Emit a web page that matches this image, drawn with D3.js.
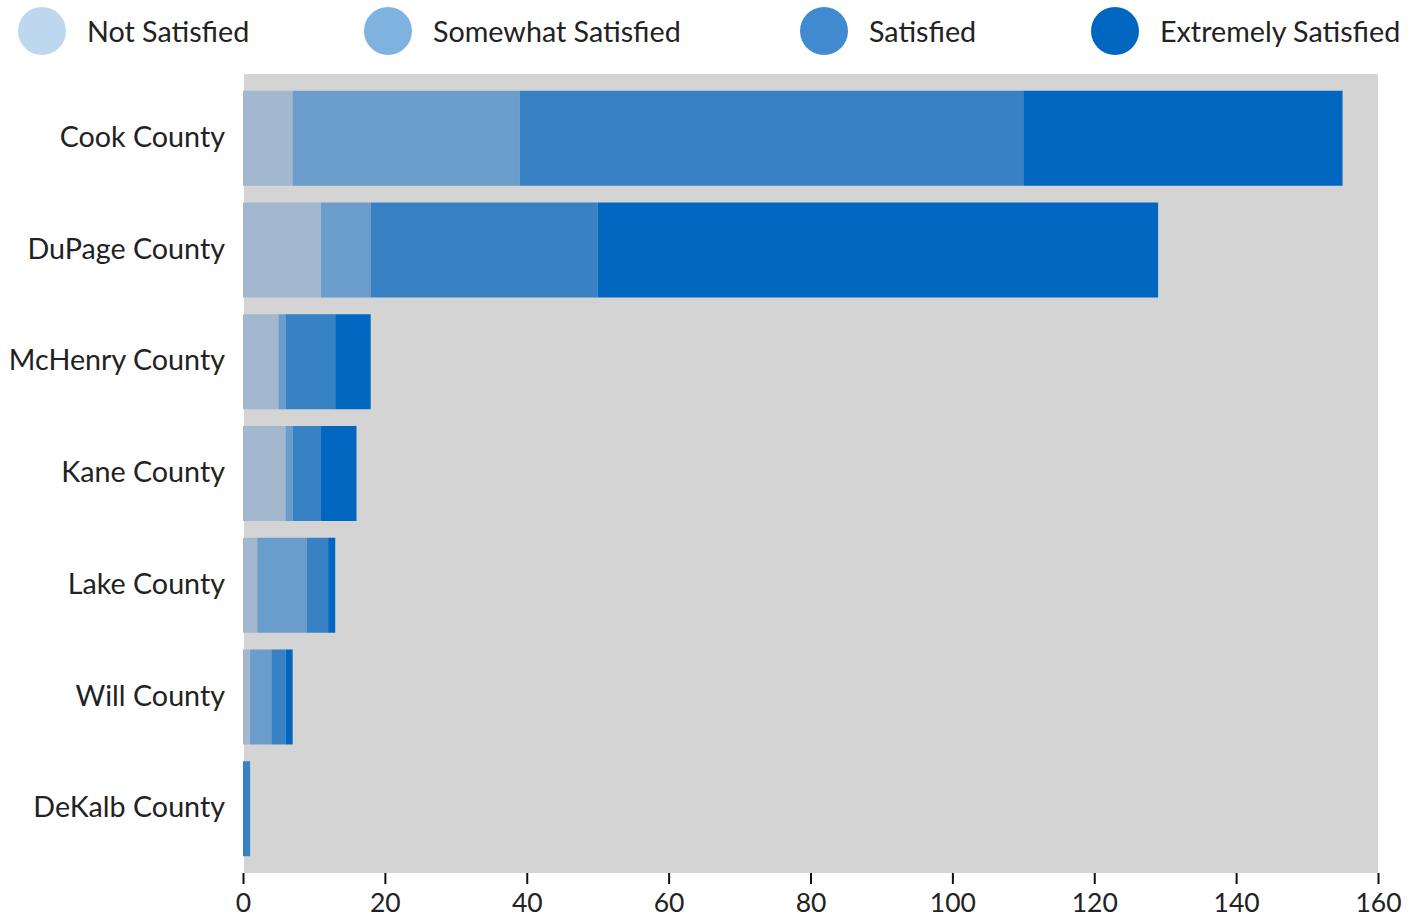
<!DOCTYPE html>
<html><head><meta charset="utf-8">
<script src="https://cdn.jsdelivr.net/npm/d3@7"></script>
<style>body{margin:0;background:#fff}svg{display:block}text{font-family:Lato,"Open Sans",sans-serif;fill:#222}</style>
</head><body><svg id="c" width="1424" height="923"></svg>
<script>
const counties = ["Cook County","DuPage County","McHenry County","Kane County","Lake County","Will County","DeKalb County"];
const seriesNames = ["Not Satisfied","Somewhat Satisfied","Satisfied","Extremely Satisfied"];
const notSatisfied = [7,11,5,6,2,1,0];
const somewhatSatisfied = [32,7,1,1,7,3,0];
const satisfied = [71,32,7,4,3,2,1];
const extremelySatisfied = [45,79,5,5,1,1,0];
const xTicks = [0,20,40,60,80,100,120,140,160];
const barColors = ["#a3b8cf","#6a9dcb","#3781c4","#0066bf"];
const legendColors = ["#bdd7ee","#7fb2de","#418ad0","#0066bf"];

const rows = counties.map((c,i)=>({county:c,"Not Satisfied":notSatisfied[i],"Somewhat Satisfied":somewhatSatisfied[i],"Satisfied":satisfied[i],"Extremely Satisfied":extremelySatisfied[i]}));
const stack = d3.stack().keys(seriesNames)(rows);

const svg = d3.select("#c");
const L=243,R=1378,T=74,B=873;
const x = d3.scaleLinear().domain([0,160]).range([L,R]);
const y = d3.scaleBand().domain(counties).range([T,B]).paddingInner(0.15).paddingOuter(0.15);

svg.append("rect").attr("x",L+1).attr("y",T).attr("width",R-L-1).attr("height",B-T).attr("fill","#d4d4d4");

svg.append("g").selectAll("g").data(stack).join("g").attr("fill",(d,i)=>barColors[i])
  .selectAll("rect").data(d=>d).join("rect")
  .attr("x",d=>x(d[0])).attr("width",d=>x(d[1])-x(d[0]))
  .attr("y",d=>y(d.data.county)).attr("height",y.bandwidth());

const ax = svg.append("g").attr("transform",`translate(0,${B})`)
  .call(d3.axisBottom(x).tickValues(xTicks).tickSize(11).tickPadding(9).tickFormat(d3.format("d")));
ax.select(".domain").remove();
ax.selectAll(".tick line").attr("stroke","#111").attr("stroke-width",2);
ax.selectAll(".tick text").attr("font-size",26.5).attr("fill","#222").style("font-family","Lato,sans-serif");

svg.append("g").selectAll("text").data(counties).join("text")
  .attr("x",225).attr("y",d=>y(d)+y.bandwidth()/2).attr("dy","0.3em")
  .attr("text-anchor","end").attr("font-size",28.7).text(d=>d);

const legX=[42,388,824,1115];
const lg = svg.append("g").selectAll("g").data(seriesNames).join("g")
  .attr("transform",(d,i)=>`translate(${legX[i]},31)`);
lg.append("circle").attr("r",24).attr("fill",(d,i)=>legendColors[i]);
lg.append("text").attr("x",45).attr("dy","0.38em").attr("font-size",28.7).text(d=>d);
</script></body></html>
